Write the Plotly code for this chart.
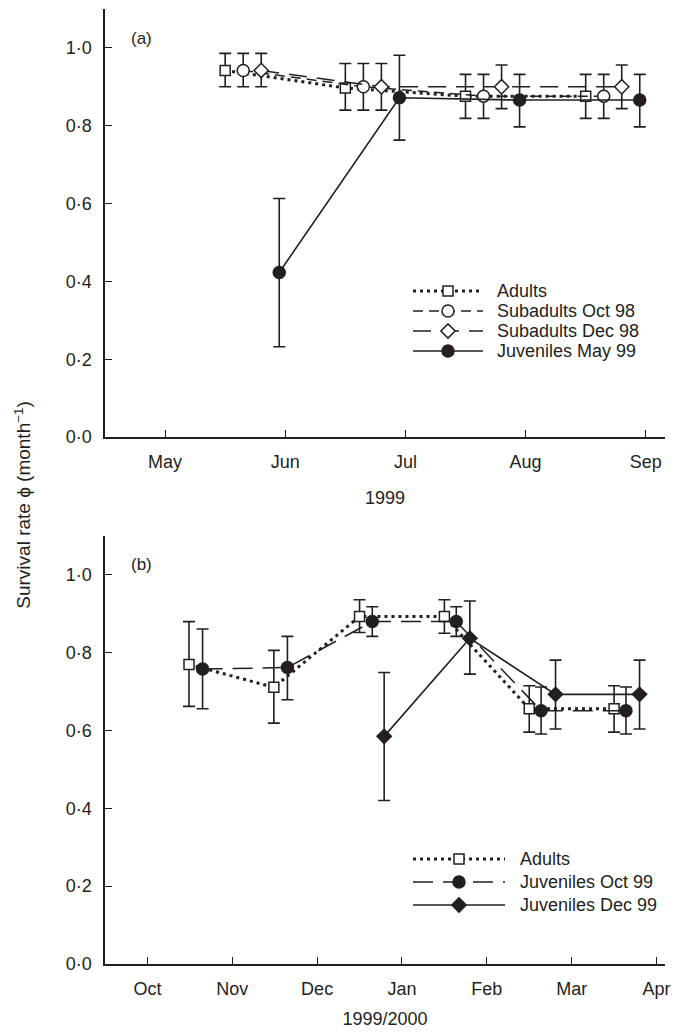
import plotly.graph_objects as go

# ---------------- data ----------------
# Panel (a): x in month numbers (May = 5 ... Sep = 9)
a_months = ["May", "Jun", "Jul", "Aug", "Sep"]
a_month_pos = [5, 6, 7, 8, 9]

a_adult_x = [5.50, 6.50, 7.50, 8.50]
a_adult_y = [0.942, 0.897, 0.876, 0.876]
a_adult_hi = [0.986, 0.960, 0.932, 0.932]
a_adult_lo = [0.900, 0.840, 0.819, 0.819]

a_subO_x = [5.65, 6.65, 7.65, 8.65]
a_subO_y = [0.942, 0.900, 0.876, 0.876]
a_subO_hi = [0.986, 0.960, 0.932, 0.932]
a_subO_lo = [0.900, 0.840, 0.819, 0.819]

a_subD_x = [5.80, 6.80, 7.80, 8.80]
a_subD_y = [0.942, 0.900, 0.900, 0.900]
a_subD_hi = [0.986, 0.960, 0.956, 0.956]
a_subD_lo = [0.900, 0.840, 0.844, 0.844]

a_juv_x = [5.95, 6.95, 7.95, 8.95]
a_juv_y = [0.423, 0.872, 0.866, 0.866]
a_juv_hi = [0.613, 0.981, 0.932, 0.932]
a_juv_lo = [0.232, 0.763, 0.797, 0.797]

# Panel (b): x in month index (Oct = 0 ... Apr = 6)
b_months = ["Oct", "Nov", "Dec", "Jan", "Feb", "Mar", "Apr"]
b_month_pos = [0, 1, 2, 3, 4, 5, 6]

b_adult_x = [0.49, 1.49, 2.50, 3.50, 4.50, 5.50]
b_adult_y = [0.770, 0.711, 0.893, 0.893, 0.656, 0.656]
b_adult_hi = [0.880, 0.806, 0.936, 0.936, 0.715, 0.715]
b_adult_lo = [0.662, 0.619, 0.852, 0.850, 0.596, 0.596]

b_juvO_x = [0.65, 1.65, 2.65, 3.64, 4.64, 5.64]
b_juvO_y = [0.758, 0.762, 0.880, 0.880, 0.651, 0.651]
b_juvO_hi = [0.861, 0.842, 0.918, 0.918, 0.712, 0.712]
b_juvO_lo = [0.656, 0.679, 0.842, 0.842, 0.591, 0.591]

b_juvD_x = [2.79, 3.80, 4.81, 5.80]
b_juvD_y = [0.585, 0.837, 0.693, 0.693]
b_juvD_hi = [0.749, 0.933, 0.781, 0.781]
b_juvD_lo = [0.420, 0.745, 0.604, 0.604]

y_ticks = [0.0, 0.2, 0.4, 0.6, 0.8, 1.0]
y_ticktext = ["0·0", "0·2", "0·4", "0·6", "0·8", "1·0"]

# ---------------- styling ----------------
INK = "#231f20"
FONT = "Liberation Sans, Arial, sans-serif"
FS = 18
LEG_FS = 18

W, H = 685, 1024
ML, MR, MT, MB = 97, 28, 1, 68
PW, PH = W - ML - MR, H - MT - MB

STYLES = {
    "Adults": dict(dash="3px,4px", lw=3, symbol="square", filled=False, size=10),
    "Subadults Oct 98": dict(dash="10px,6px", lw=1.5, symbol="circle", filled=False, size=12),
    "Subadults Dec 98": dict(dash="18px,10px", lw=1.5, symbol="diamond", filled=False, size=11),
    "Juveniles May 99": dict(dash="solid", lw=1.6, symbol="circle", filled=True, size=12),
    "Juveniles Oct 99": dict(dash="20px,10px", lw=1.5, symbol="circle", filled=True, size=12),
    "Juveniles Dec 99": dict(dash="solid", lw=1.6, symbol="diamond", filled=True, size=11),
}


def err(y, hi, lo):
    return dict(type="data", symmetric=False,
                array=[h - v for h, v in zip(hi, y)],
                arrayminus=[v - l for v, l in zip(y, lo)],
                color=INK, thickness=1.6, width=6)


def marker(st, opacity=1):
    return dict(symbol=st["symbol"], size=st["size"], opacity=opacity,
                color=INK if st["filled"] else "white",
                line=dict(color=INK, width=1.5))


def series(x, y, hi, lo, name, xa, ya):
    st = STYLES[name]
    return go.Scatter(
        x=x, y=y, name=name, mode="lines+markers", showlegend=False,
        line=dict(color=INK, width=st["lw"], dash=st["dash"]),
        marker=marker(st), error_y=err(y, hi, lo), xaxis=xa, yaxis=ya)


fig = go.Figure()

# panel (a)
fig.add_trace(series(a_adult_x, a_adult_y, a_adult_hi, a_adult_lo, "Adults", "x", "y"))
fig.add_trace(series(a_subO_x, a_subO_y, a_subO_hi, a_subO_lo, "Subadults Oct 98", "x", "y"))
fig.add_trace(series(a_subD_x, a_subD_y, a_subD_hi, a_subD_lo, "Subadults Dec 98", "x", "y"))
fig.add_trace(series(a_juv_x, a_juv_y, a_juv_hi, a_juv_lo, "Juveniles May 99", "x", "y"))

# panel (b)
fig.add_trace(series(b_adult_x, b_adult_y, b_adult_hi, b_adult_lo, "Adults", "x2", "y2"))
fig.add_trace(series(b_juvO_x, b_juvO_y, b_juvO_hi, b_juvO_lo, "Juveniles Oct 99", "x2", "y2"))
fig.add_trace(series(b_juvD_x, b_juvD_y, b_juvD_hi, b_juvD_lo, "Juveniles Dec 99", "x2", "y2"))

# ---------------- hand-made legends (compact rows like the original) ----------------
# positions are in page pixels (page has an 8px body offset)
LEGENDS = [
    dict(names=["Adults", "Subadults Oct 98", "Subadults Dec 98", "Juveniles May 99"],
         top=291, dy=20, x0=413, x1=483, xt=495),
    dict(names=["Adults", "Juveniles Oct 99", "Juveniles Dec 99"],
         top=859, dy=23, x0=413, x1=505, xt=518),
]


def px_x(sx):
    return (sx - 8 - ML) / PW


def px_y(sy):
    return (H - MB - (sy - 8)) / PH


annotations = []
for leg in LEGENDS:
    for i, name in enumerate(leg["names"]):
        st = STYLES[name]
        yy = px_y(leg["top"] + i * leg["dy"])
        xa, xb = px_x(leg["x0"]), px_x(leg["x1"])
        fig.add_trace(go.Scatter(
            x=[xa, (xa + xb) / 2, xb], y=[yy, yy, yy], mode="lines+markers",
            showlegend=False, hoverinfo="skip", xaxis="x3", yaxis="y3",
            line=dict(color=INK, width=st["lw"], dash=st["dash"]),
            marker=marker(st, opacity=[0, 1, 0])))
        annotations.append(dict(text=name, x=px_x(leg["xt"]), y=yy,
                                xref="paper", yref="paper", showarrow=False,
                                xanchor="left", yanchor="middle",
                                font=dict(family=FONT, size=LEG_FS, color=INK)))

axis_common = dict(showline=True, linecolor=INK, linewidth=1.5, ticks="inside",
                   ticklen=7, tickwidth=1.3, tickcolor=INK, showgrid=False,
                   zeroline=False, mirror=False, ticklabelstandoff=8,
                   tickfont=dict(family=FONT, size=FS, color=INK))

annotations += [
    dict(text="(a)", x=0.065, y=0.969, xref="paper", yref="paper",
         showarrow=False, xanchor="center", yanchor="middle",
         font=dict(family=FONT, size=17, color=INK)),
    dict(text="(b)", x=0.065, y=0.418, xref="paper", yref="paper",
         showarrow=False, xanchor="center", yanchor="middle",
         font=dict(family=FONT, size=17, color=INK)),
    dict(text="Survival rate ϕ (month<sup>−1</sup>)", x=-0.148, y=0.48,
         xref="paper", yref="paper", showarrow=False, textangle=-90,
         xanchor="center", yanchor="middle",
         font=dict(family=FONT, size=19, color=INK)),
]

fig.update_layout(
    width=W, height=H,
    margin=dict(l=ML, r=MR, t=MT, b=MB),
    paper_bgcolor="white", plot_bgcolor="rgba(0,0,0,0)",
    font=dict(family=FONT, size=FS, color=INK),
    showlegend=False,
    xaxis=dict(axis_common, domain=[0, 1], anchor="y", range=[4.5, 9.16],
               tickvals=a_month_pos, ticktext=a_months,
               title=dict(text="1999", font=dict(size=FS), standoff=20)),
    yaxis=dict(axis_common, domain=[0.5518, 1.0], anchor="x", range=[0, 1.1],
               tickvals=y_ticks, ticktext=y_ticktext),
    xaxis2=dict(axis_common, domain=[0, 1], anchor="y2", range=[-0.5, 6.1],
                tickvals=b_month_pos, ticktext=b_months,
                title=dict(text="1999/2000", font=dict(size=FS), standoff=14)),
    yaxis2=dict(axis_common, domain=[0, 0.4482], anchor="x2", range=[0, 1.1],
                tickvals=y_ticks, ticktext=y_ticktext),
    xaxis3=dict(domain=[0, 1], anchor="y3", range=[0, 1], visible=False, fixedrange=True),
    yaxis3=dict(domain=[0, 1], anchor="x3", range=[0, 1], visible=False, fixedrange=True),
    annotations=annotations,
)

fig.write_html("out.html")
